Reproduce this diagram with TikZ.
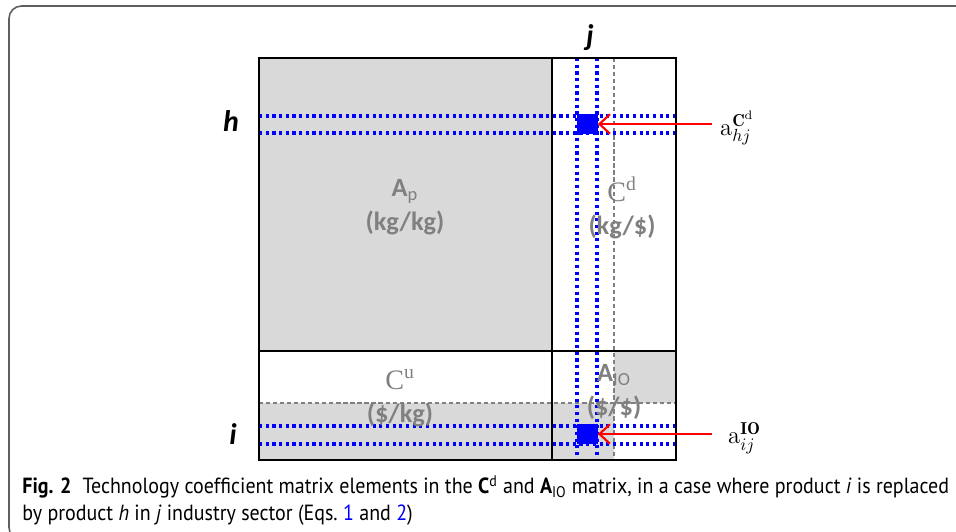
\documentclass[tikz,border=0pt]{standalone}
\usepackage{fontspec}
\newfontfamily\capfont[FakeStretch=0.91]{PT Sans}
\newfontfamily\lblfont{Carlito}
\newfontfamily\serfont{Liberation Serif}
\usetikzlibrary{arrows.meta}
\definecolor{cellgray}{RGB}{217,217,217}
\definecolor{lblgray}{RGB}{128,128,128}
\definecolor{framegray}{RGB}{95,95,95}

\begin{document}
\begin{tikzpicture}[
  x=0.02cm, y=-0.02cm,
  cell/.style={fill=cellgray, draw=none},
  border/.style={draw=black, line width=1.2pt},
  guide/.style={draw=gray, line width=0.6pt, dash pattern=on 2.4pt off 1.6pt},
  dotline/.style={draw=blue, line width=1.8pt, dash pattern=on 1.8pt off 2pt},
  hit/.style={rectangle, fill=blue, inner sep=0pt, minimum width=0.42cm, minimum height=0.4cm},
  pointer/.style={draw=red, line width=1.2pt, -{Straight Barb[length=6pt,width=11pt]}},
  blocklbl/.style={text=lblgray, align=center, font=\lblfont\bfseries\fontsize{15}{19}\selectfont},
  axislbl/.style={font=\lblfont\bfseries\itshape\fontsize{17}{20}\selectfont},
  coeflbl/.style={anchor=west, font=\fontsize{14}{16}\selectfont}
]
  \useasboundingbox (0,0) rectangle (956,531);

  % frame of the figure
  \draw[framegray, line width=0.9pt, rounded corners=0.25cm]
    (960,6) -- (9,6) -- (9,540) -- (40,540);

  % shaded blocks
  \fill[cell] (259,58) rectangle (552,351);
  \fill[cell] (614,351) rectangle (676,403);
  \fill[cell] (259,403) rectangle (614,460);

  % substitution guides
  \draw[guide] (614,58) -- (614,460);
  \draw[guide] (259,403) -- (676,403);

  % row h, row i and column j
  \draw[dotline] (577,58) -- (577,460);
  \draw[dotline] (597,58) -- (597,460);
  \draw[dotline] (259,116) -- (676,116);
  \draw[dotline] (259,133) -- (676,133);
  \draw[dotline] (259,426) -- (676,426);
  \draw[dotline] (259,444) -- (676,444);

  % matrix borders
  \draw[border] (259,58) rectangle (676,460);
  \draw[border] (552,58) -- (552,460);
  \draw[border] (259,351) -- (676,351);

  % selected elements
  \node[hit] (hitcd) at (587,124) {};
  \node[hit] (hitio) at (587,434) {};

  % block names
  \node[blocklbl] (ap) at (405,207) {A\textsubscript{\mdseries p}\\(kg/kg)};
  \node[blocklbl] (cd) at (622,208) {{\serfont\mdseries\fontsize{16}{19}\selectfont C\textsuperscript{d}}\\(kg/\$)};
  \node[blocklbl] (cu) at (400,398) {{\serfont\mdseries\fontsize{16}{19}\selectfont C\textsuperscript{u}}\\(\$/kg)};
  \node[blocklbl] (aio) at (614,392) {A\textsubscript{\mdseries IO}\\(\$/\$)};

  % indices
  \node[axislbl] (colj) at (590,38) {j};
  \node[axislbl] (rowh) at (231,121) {h};
  \node[axislbl] (rowi) at (233,434) {i};

  % coefficients
  \node[coeflbl] (acd) at (714,128) {$\mathrm{a}_{hj}^{\mathbf{C}^{\mathrm{d}}}$};
  \node[coeflbl] (aij) at (722,438) {$\mathrm{a}_{ij}^{\mathbf{IO}}$};
  \coordinate (tailcd) at (712,124);
  \coordinate (tailio) at (712,434);
  \draw[pointer] (tailcd) -- (hitcd.east);
  \draw[pointer] (tailio) -- (hitio.east);

  % caption
  \node[anchor=north west, align=left, inner sep=0pt,
    font=\capfont\fontsize{12.5}{15.3}\selectfont] (caption) at (22,475)
    {\textbf{Fig. 2}\enspace Technology coefficient matrix elements in the \textbf{C}\textsuperscript{d} and \textbf{A}\textsubscript{IO} matrix, in a case where product \textit{i} is replaced\\
     by product \textit{h} in \textit{j} industry sector (Eqs.~{\color{blue}1} and {\color{blue}2})};
\end{tikzpicture}
\end{document}
